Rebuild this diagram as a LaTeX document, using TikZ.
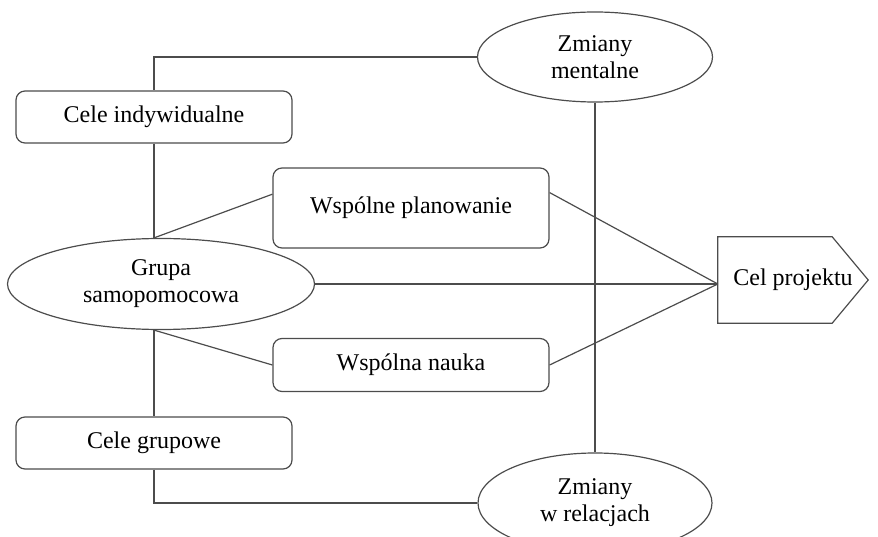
\documentclass[tikz,border=0pt]{standalone}
\usepackage{fontspec}
\setmainfont{Liberation Serif}
\usetikzlibrary{positioning,shapes.geometric,calc}

\tikzset{
    box/.style={draw=black!70, line width=1.2pt, rounded corners=9pt,
        minimum width=276pt, font=\fontsize{24}{26}\selectfont},
    oval/.style={ellipse, draw=black!70, line width=1.2pt, align=center,
        inner sep=0pt, font=\fontsize{24}{27}\selectfont},
    goal/.style={minimum width=150pt, minimum height=86pt, inner sep=0pt,
        font=\fontsize{24}{26}\selectfont},
    link/.style={draw=black!70, line width=1.2pt}
}

\begin{document}
\begin{tikzpicture}[x=1pt,y=-1pt]
    \useasboundingbox (0,0) rectangle (878,537);

    % Ellipses
    \node[oval, minimum width=235pt, minimum height=90pt] (zmm) at (595,57) {Zmiany\\mentalne};
    \node[oval, minimum width=307pt, minimum height=91pt] (grupa) at (161,284) {Grupa\\samopomocowa};
    \node[oval, minimum width=234pt, minimum height=100pt] (zmr) at (595,503) {Zmiany\\w relacjach};

    % Boxes
    \node[box, minimum height=52pt] (cind) at (154,117) {Cele indywidualne};
    \node[box, minimum height=80pt] (wplan) at (411,208) {Wspólne planowanie};
    \node[box, minimum height=53pt] (wnauka) at (411,365) {Wspólna nauka};
    \node[box, minimum height=52pt] (cgrup) at (154,443) {Cele grupowe};

    % Goal arrow
    \node[goal] (cel) at (793,280) {Cel projektu};
    \draw[link] (cel.south west) -- (cel.north west) -- ($(cel.north east)+(-36,0)$)
        -- (cel.east) -- ($(cel.south east)+(-36,0)$) -- cycle;

    % Attachment points
    \coordinate (gtop) at (cind.south |- grupa.north);
    \coordinate (gbot) at (cgrup.north |- grupa.south);
    \coordinate (plin) at ($(wplan.north west)!0.33!(wplan.south west)$);
    \coordinate (plout) at ($(wplan.north east)!0.31!(wplan.south east)$);
    \coordinate (cin) at (cel.west |- grupa.east);

    % Connectors
    \draw[link] (zmm.west) -| (cind.north);
    \draw[link] (cind.south) -- (gtop);
    \draw[link] (gtop) -- (plin);
    \draw[link] (gbot) -- (wnauka.west);
    \draw[link] (gbot) -- (cgrup.north);
    \draw[link] (cgrup.south) |- (zmr.west);
    \draw[link] (zmm.south) -- (zmr.north);
    \draw[link] (plout) -- (cin);
    \draw[link] (grupa.east) -- (cin);
    \draw[link] (wnauka.east) -- (cin);
\end{tikzpicture}
\end{document}
